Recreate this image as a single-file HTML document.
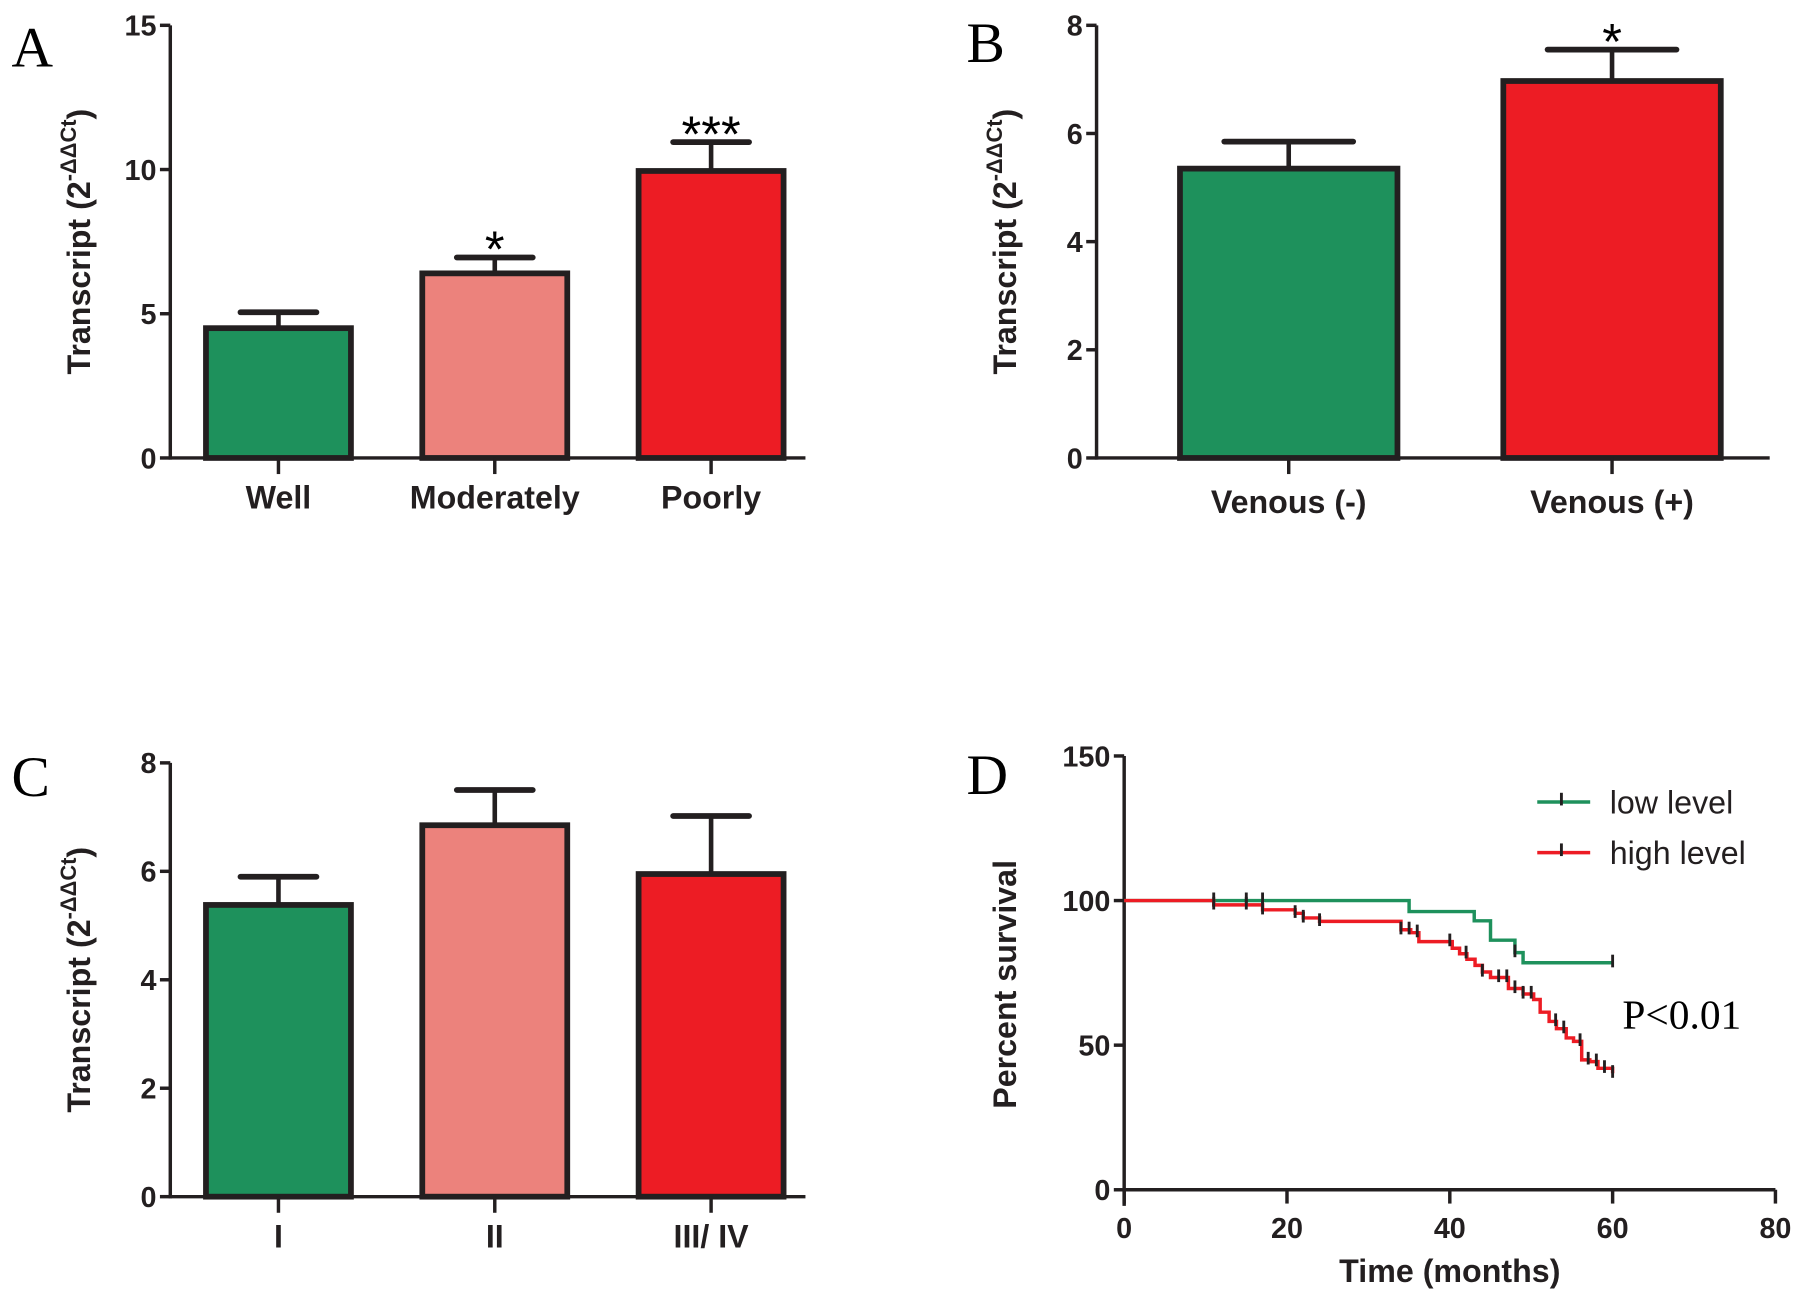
<!DOCTYPE html>
<html><head><meta charset="utf-8">
<style>
html,body{margin:0;padding:0;background:#fff;}
svg{display:block;}
text{font-family:"Liberation Sans",sans-serif;}
.tick{font-weight:bold;font-size:25px;fill:#231f20;}
.cat{font-weight:bold;font-size:28px;fill:#231f20;}
.ttl{font-weight:bold;font-size:28px;fill:#231f20;}
.letter{font-family:"Liberation Serif",serif;font-size:50px;fill:#000;}
.serif{font-family:"Liberation Serif",serif;}
</style></head>
<body>
<svg id="fig" width="1795" height="1297" viewBox="0 0 1560 1127.2" xmlns="http://www.w3.org/2000/svg"></svg>
<script>
// ---------- data ----------
const catsA = ["Well","Moderately","Poorly"];
const valsA = [4.5,6.4,9.95];
const errA = [0.55,0.55,1.0];
const starsA = ["","*","***"];
const ticksA = [0,5,10,15];

const catsB = ["Venous (-)","Venous (+)"];
const valsB = [5.35,6.97];
const errB = [0.5,0.58];
const starsB = ["","*"];
const ticksB = [0,2,4,6,8];

const catsC = ["I","II","III/ IV"];
const valsC = [5.38,6.85,5.95];
const errC = [0.52,0.65,1.07];
const starsC = ["","",""];
const ticksC = [0,2,4,6,8];

const colorsA = ["#1e915c","#ec827c","#ed1c24"];
const colorsB = ["#1e915c","#ed1c24"];

const lowTimes = [0,35,43,45,48,49,60];
const lowSurv = [100,96.2,93,86.3,82,78.5,78.5];
const lowCensor = [11,15,17,48,60];
const highTimes = [0,11,17,21,22,24,34,35.2,36.2,40.3,41.2,42.1,43.1,44,45,47.2,49,50.3,51.1,52.2,53.1,54.3,55.2,56.2,57.2,58.2,60];
const highSurv = [100,98.5,96.8,95.6,94,92.8,89.9,88.9,85.8,83.5,81.6,79.7,77.6,75.3,73.4,69.6,67.7,65.8,61.4,58.2,55.7,52.5,51.3,44.9,44.3,42,40.3];
const highCensor = [11,15,17,21,22,24,34,35,36,40,42,44,46,47,48,49,50,53,54,56,57,58,59,60];
const ticksDY = [0,50,100,150];
const ticksDX = [0,20,40,60,80];

// ---------- helpers ----------
const NS="http://www.w3.org/2000/svg";
const svg=document.getElementById('fig');
function mk(tag,attrs,parent){const e=document.createElementNS(NS,tag);for(const k in attrs)e.setAttribute(k,attrs[k]);(parent||svg).appendChild(e);return e;}
const INK="#231f20";

function barPanel(o){
  const g=mk('g',{});
  
  
  const y=v=>o.y0-(v/o.max)*(o.y0-o.yTop);
  const L=mk('text',{x:o.letterX,y:o.letterY,class:'letter'},g);L.textContent=o.letter;
  
  
  const ya=mk('line',{x1:o.ax,y1:o.yTop,x2:o.ax,y2:o.y0+1.5,stroke:INK,'stroke-width':3},g);
  
  
  o.ticks.forEach(t=>{
    mk('line',{x1:o.ax-9,y1:y(t),x2:o.ax,y2:y(t),stroke:INK,'stroke-width':3},g);
    const tx=mk('text',{x:o.ax-12,y:y(t)+9,'text-anchor':'end',class:'tick'},g);tx.textContent=t;
    
    
  });
  const xa=mk('line',{x1:o.ax,y1:o.y0,x2:o.axEnd,y2:o.y0,stroke:INK,'stroke-width':3},g);
  
  
  const tt=mk('text',{x:0,y:0,'text-anchor':'middle',class:'ttl',transform:`translate(${o.ax-70},${(o.y0+o.yTop)/2}) rotate(-90)`},g);
  tt.innerHTML='Transcript (2<tspan dy="-12" font-size="19">-ΔΔCt</tspan><tspan dy="12">)</tspan>';
  
  
  o.cats.forEach((c,i)=>{
    const cx=o.x0+i*o.step, w=o.bw;
    const top=y(o.vals[i]), et=y(o.vals[i]+o.errs[i]);
    const eb=mk('line',{x1:cx,y1:top,x2:cx,y2:et,stroke:INK,'stroke-width':4},g);
    
    
    mk('line',{x1:cx-o.capW,y1:et,x2:cx+o.capW,y2:et,stroke:INK,'stroke-width':5,'stroke-linecap':'round'},g);
    const r=mk('rect',{x:cx-w/2,y:top,width:w,height:o.y0-top,fill:o.colors[i],stroke:INK,'stroke-width':5},g);
    
    
    mk('line',{x1:cx,y1:o.y0,x2:cx,y2:o.y0+14,stroke:INK,'stroke-width':3},g);
    const lb=mk('text',{x:cx,y:o.y0+o.labDy,'text-anchor':'middle',class:'cat'},g);lb.textContent=c;
    
    
    if(o.stars[i]){
      const s=mk('text',{x:cx,y:et+8,'text-anchor':'middle','font-size':44,fill:'#000'},g);s.textContent=o.stars[i];
      
      
    }
  });
}

barPanel({name:'panel-a',letter:'A',letterX:10,letterY:58,ax:148,axEnd:700,yTop:22,y0:398,max:15,ticks:ticksA,cats:catsA,vals:valsA,errs:errA,stars:starsA,colors:colorsA,x0:242,step:188,bw:126,capW:33,labDy:44});
barPanel({name:'panel-b',letter:'B',letterX:840,letterY:54,ax:953,axEnd:1538,yTop:22,y0:398,max:8,ticks:ticksB,cats:catsB,vals:valsB,errs:errB,stars:starsB,colors:colorsB,x0:1120,step:281,bw:189,capW:56,labDy:48});
barPanel({name:'panel-c',letter:'C',letterX:10,letterY:692,ax:148,axEnd:700,yTop:663,y0:1040,max:8,ticks:ticksC,cats:catsC,vals:valsC,errs:errC,stars:starsC,colors:colorsA,x0:242,step:188,bw:126,capW:33,labDy:44});

// ---------- panel D ----------
(function(){
  const g=mk('g',{});
  
  
  const ax=977, y0=1034, yTop=657, xEnd=1543;
  const X=t=>ax+t/80*(xEnd-ax), Y=v=>y0-v/150*(y0-yTop);
  const L=mk('text',{x:840,y:690,class:'letter'},g);L.textContent='D';
  
  
  const ya=mk('line',{x1:ax,y1:yTop,x2:ax,y2:y0+14,stroke:INK,'stroke-width':3},g);
  
  
  ticksDY.forEach(t=>{
    mk('line',{x1:ax-9,y1:Y(t),x2:ax,y2:Y(t),stroke:INK,'stroke-width':3},g);
    const tx=mk('text',{x:ax-12,y:Y(t)+9,'text-anchor':'end',class:'tick'},g);tx.textContent=t;
    
    
  });
  const xa=mk('line',{x1:ax,y1:y0,x2:xEnd,y2:y0,stroke:INK,'stroke-width':3},g);
  
  
  ticksDX.forEach(t=>{
    mk('line',{x1:X(t),y1:y0,x2:X(t),y2:y0+12,stroke:INK,'stroke-width':3},g);
    const tx=mk('text',{x:X(t),y:y0+42,'text-anchor':'middle',class:'tick'},g);tx.textContent=t;
    
    
  });
  const xt=mk('text',{x:X(40),y:1114,'text-anchor':'middle',class:'ttl'},g);xt.textContent='Time (months)';
  
  
  const yt=mk('text',{x:0,y:0,'text-anchor':'middle',class:'ttl',transform:`translate(883,${(y0+yTop)/2+10}) rotate(-90)`},g);yt.textContent='Percent survival';
  
  
  function stepPath(ts,ss){
    let d=`M${X(ts[0])},${Y(ss[0])}`;
    for(let i=1;i<ts.length;i++){d+=` H${X(ts[i])} V${Y(ss[i])}`;}
    return d;
  }
  function survAt(ts,ss,t){let v=ss[0];for(let i=0;i<ts.length;i++){if(ts[i]<=t)v=ss[i];}return v;}
  function curve(ts,ss,cs,col,name){
    const p=mk('path',{d:stepPath(ts,ss),fill:'none',stroke:col,'stroke-width':3},g);
    
    
    cs.forEach(t=>{
      const v=survAt(ts,ss,t);
      const m=mk('line',{x1:X(t),y1:Y(v)-7,x2:X(t),y2:Y(v)+4,stroke:INK,'stroke-width':2.5},g);
      
      
    });
  }
  curve(lowTimes,lowSurv,lowCensor,'#1e915c','low-level-curve');
  curve(highTimes,highSurv,highCensor,'#ed1c24','high-level-curve');
  [['low level','#1e915c',697],['high level','#ed1c24',741]].forEach(([lab,col,yy])=>{
    const lg=mk('g',{},g);
    
    
    mk('line',{x1:1336,y1:yy,x2:1382,y2:yy,stroke:col,'stroke-width':3},lg);
    mk('line',{x1:1357,y1:yy-8,x2:1357,y2:yy+3,stroke:INK,'stroke-width':2.5},lg);
    const t=mk('text',{x:1399,y:yy+10,'font-size':28,fill:'#231f20'},lg);t.textContent=lab;
  });
  const pv=mk('text',{x:1410,y:894,class:'serif','font-size':36,fill:'#000'},g);pv.textContent='P<0.01';
  
  
})();
</script>
</body></html>
